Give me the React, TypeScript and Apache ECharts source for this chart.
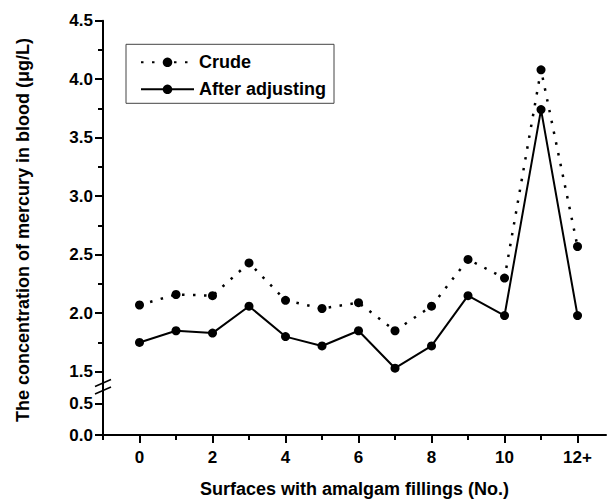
import React, { useEffect, useRef } from "react";
import * as echarts from "echarts";

const surfaces = [0, 1, 2, 3, 4, 5, 6, 7, 8, 9, 10, 11, 12];
const crude = [2.07, 2.16, 2.15, 2.43, 2.11, 2.04, 2.09, 1.85, 2.06, 2.46, 2.3, 4.08, 2.57];
const adjusted = [1.75, 1.85, 1.83, 2.06, 1.8, 1.72, 1.85, 1.53, 1.72, 2.15, 1.98, 3.74, 1.98];
const majorXTicks = [0, 2, 4, 6, 8, 10, 12];
const minorXTicks = [-1, 1, 3, 5, 7, 9, 11];
const xTickLabel = (v: number) => (v === 12 ? "12+" : String(v));

const FONT = "'Liberation Sans', Arial, sans-serif";
const labelStyle = { color: "#000", fontFamily: FONT, fontWeight: "bold" as const, fontSize: 17 };

export default function App() {
  const ref = useRef<HTMLDivElement>(null);
  useEffect(() => {
    if (!ref.current) return;
    const chart = echarts.init(ref.current, undefined, { renderer: "svg" });
    const mkLine = () => ({ show: true, onZero: false, lineStyle: { color: "#000", width: 2, type: "solid" as const } });
    const mkTick = (len: number, extra: any = {}) => ({
      show: true,
      inside: false,
      length: len,
      lineStyle: { color: "#000", width: 2, type: "solid" as const },
      ...extra,
    });
    const xMin = -1;
    const xMax = 12.78;
    chart.setOption({
      animation: false,
      backgroundColor: "#fff",
      grid: [
        { left: 103, right: 1, top: 20.7, bottom: 127.3 },
        { left: 103, right: 1, top: 403.3, bottom: 61.7 },
      ],
      xAxis: [
        { type: "value", gridIndex: 0, min: xMin, max: xMax, show: false },
        {
          type: "value",
          gridIndex: 1,
          position: "bottom",
          min: xMin,
          max: xMax,
          axisLine: mkLine(),
          splitLine: { show: false },
          axisTick: mkTick(8, { customValues: majorXTicks }),
          axisLabel: { ...labelStyle, margin: 14, customValues: majorXTicks, formatter: xTickLabel },
          name: "Surfaces with amalgam fillings (No.)",
          nameLocation: "middle",
          nameGap: 45,
          nameTextStyle: { color: "#000", fontFamily: FONT, fontWeight: "bold", fontSize: 18 },
        },
        {
          type: "value",
          gridIndex: 1,
          position: "bottom",
          min: xMin,
          max: xMax,
          axisLine: { show: false, onZero: false },
          splitLine: { show: false },
          axisLabel: { show: false },
          axisTick: mkTick(5, { customValues: minorXTicks }),
        },
      ],
      yAxis: [
        {
          type: "value",
          gridIndex: 0,
          position: "left",
          min: 1.5,
          max: 4.5,
          interval: 0.5,
          axisLine: mkLine(),
          splitLine: { show: false },
          axisTick: mkTick(8),
          minorTick: { show: true, splitNumber: 2, length: 5, lineStyle: { width: 2, color: "#000" } },
          axisLabel: { ...labelStyle, margin: 10, formatter: (v: number) => v.toFixed(1) },
        },
        {
          type: "value",
          gridIndex: 1,
          position: "left",
          min: 0,
          max: 0.5,
          interval: 0.5,
          axisLine: mkLine(),
          splitLine: { show: false },
          axisTick: mkTick(8),
          axisLabel: { ...labelStyle, margin: 10, formatter: (v: number) => v.toFixed(1) },
        },
      ],
      legend: {
        orient: "vertical",
        left: 126,
        top: 44.3,
        padding: [9, 8, 5, 14],
        itemGap: 9,
        itemWidth: 53,
        itemHeight: 12,
        borderColor: "#444",
        borderWidth: 1,
        textStyle: { color: "#000", fontFamily: FONT, fontWeight: "bold", fontSize: 18 },
        data: ["Crude", "After adjusting"],
      },
      graphic: [
        {
          type: "rect",
          shape: { x: 102, y: 371, width: 2, height: 33 },
          style: { fill: "#000" },
        },
        {
          type: "line",
          shape: { x1: 95, y1: 386.5, x2: 111, y2: 379.5 },
          style: { stroke: "#000", lineWidth: 1.5 },
        },
        {
          type: "line",
          shape: { x1: 95, y1: 394, x2: 111, y2: 387 },
          style: { stroke: "#000", lineWidth: 1.5 },
        },
        {
          type: "text",
          x: 23,
          y: 230,
          rotation: Math.PI / 2,
          style: {
            text: "The concentration of mercury in blood (\u03bcg/L)",
            fill: "#000",
            font: `bold 18px ${FONT}`,
            textAlign: "center",
            textVerticalAlign: "middle",
          },
        },
      ],
      series: [
        {
          name: "Crude",
          type: "line",
          xAxisIndex: 0,
          yAxisIndex: 0,
          data: surfaces.map((s, i) => [s, crude[i]]),
          symbol: "circle",
          symbolSize: 9,
          clip: false,
          itemStyle: { color: "#000" },
          lineStyle: { color: "#000", width: 2.5, type: [2.5, 8.5] },
        },
        {
          name: "After adjusting",
          type: "line",
          xAxisIndex: 0,
          yAxisIndex: 0,
          data: surfaces.map((s, i) => [s, adjusted[i]]),
          symbol: "circle",
          symbolSize: 9,
          clip: false,
          itemStyle: { color: "#000" },
          lineStyle: { color: "#000", width: 2 },
        },
      ],
    });
    return () => chart.dispose();
  }, []);
  return (
    <div
      ref={ref}
      style={{ position: "absolute", left: 0, top: 0, width: 607, height: 499 }}
    />
  );
}
